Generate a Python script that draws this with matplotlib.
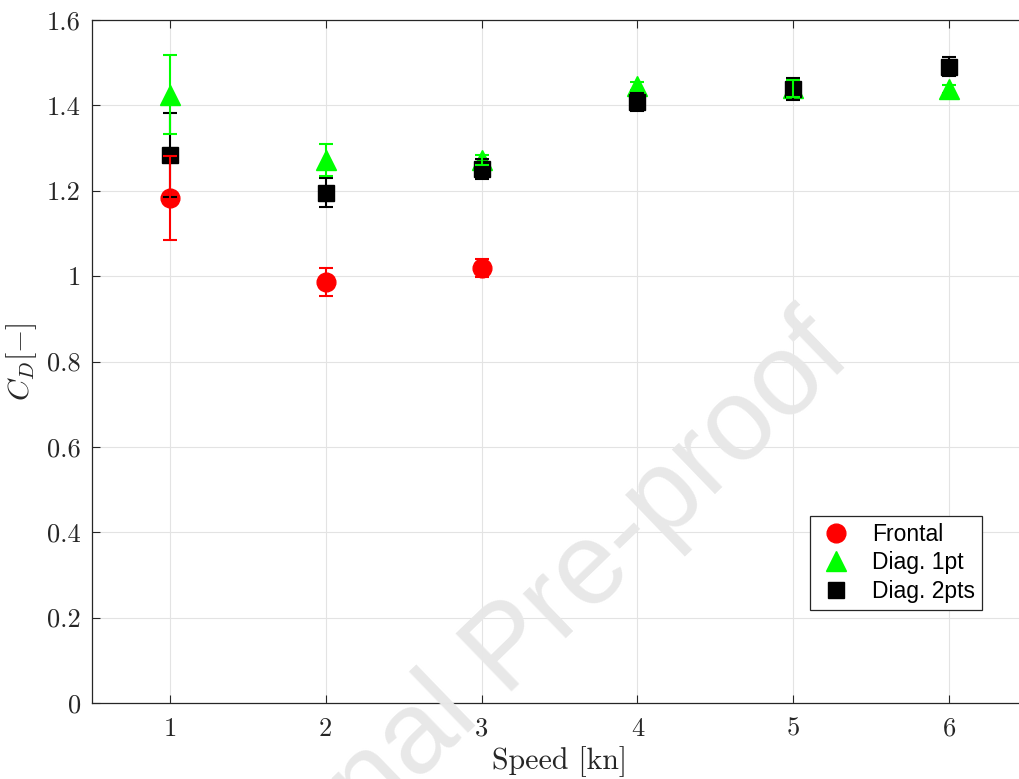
import matplotlib
matplotlib.use("Agg")
import matplotlib.pyplot as plt
import numpy as np

speed = [1, 2, 3, 4, 5, 6]

frontal_x = [1, 2, 3]
frontal_cd = [1.183, 0.986, 1.019]
frontal_err = [0.098, 0.033, 0.022]

diag1_x = [1, 2, 3, 4, 5, 6]
diag1_cd = [1.425, 1.272, 1.272, 1.445, 1.440, 1.438]
diag1_err = [0.093, 0.037, 0.012, 0.010, 0.020, 0.010]

diag2_x = [1, 2, 3, 4, 5, 6]
diag2_cd = [1.284, 1.195, 1.251, 1.408, 1.438, 1.491]
diag2_err = [0.098, 0.034, 0.023, 0.022, 0.025, 0.023]

yticks = [0, 0.2, 0.4, 0.6, 0.8, 1.0, 1.2, 1.4, 1.6]
ytick_labels = ["0", "0.2", "0.4", "0.6", "0.8", "1", "1.2", "1.4", "1.6"]

plt.rcParams['mathtext.fontset'] = 'cm'
plt.rcParams['font.family'] = 'serif'
plt.rcParams['font.serif'] = ['cmr10', 'DejaVu Serif']
plt.rcParams['axes.unicode_minus'] = False

fig = plt.figure(figsize=(10.19, 7.79), dpi=100)
ax = fig.add_axes([92/1019, 76/779, (1027-92)/1019, 683/779])

# watermark
fig.text(0.50, 0.165, "Journal Pre-proof", fontsize=84, color='#e8e8e8',
         family='Liberation Sans', rotation=44, ha='center', va='center',
         rotation_mode='anchor', zorder=0)
ax.patch.set_alpha(0)

ax.plot(frontal_x, frontal_cd, 'o', color='#ff0000', ms=13.5, zorder=2, label='Frontal')
ax.plot(diag1_x, diag1_cd, '^', color='#00ff00', ms=15, zorder=2.1, label='Diag. 1pt')
ax.plot(diag2_x, diag2_cd, 's', color='#000000', ms=11.5, zorder=2.2, label='Diag. 2pts')

ax.errorbar(diag2_x, diag2_cd, yerr=diag2_err, fmt='none', ecolor='#000000',
            elinewidth=1.5, capsize=5, capthick=1.5, zorder=3)
ax.errorbar(diag1_x, diag1_cd, yerr=diag1_err, fmt='none', ecolor='#00ff00',
            elinewidth=1.5, capsize=5, capthick=1.5, zorder=4)
ax.errorbar(frontal_x, frontal_cd, yerr=frontal_err, fmt='none', ecolor='#ff0000',
            elinewidth=1.5, capsize=5, capthick=1.5, zorder=5)

ax.set_xlim(0.5, 6.5)
ax.set_ylim(0, 1.6)
ax.set_xticks(speed)
ax.set_xticklabels([str(s) for s in speed])
ax.set_yticks(yticks)
ax.set_yticklabels(ytick_labels)
ax.tick_params(direction='in', length=6, width=0.8, labelsize=19, colors='#262626',
               pad=8, top=True, right=True)
ax.tick_params(axis='x', pad=10)
for lab in ax.get_xticklabels() + ax.get_yticklabels():
    lab.set_color('#262626')
ax.grid(True, color='#e3e3e3', linewidth=0.8)
ax.set_axisbelow(True)
for s in ax.spines.values():
    s.set_color('#262626')
    s.set_linewidth(0.9)

ax.set_xlabel("Speed [kn]", fontsize=21.5, color='#262626', labelpad=4)
ax.set_ylabel(r"$C_D[-]$", fontsize=21.5, color='#262626', labelpad=6)

leg = ax.legend(loc='lower left', bbox_to_anchor=(810/1019, (779-610)/779),
                bbox_transform=fig.transFigure, prop={'family': 'Liberation Sans', 'size': 16.5},
                frameon=True, fancybox=False, edgecolor='#262626', framealpha=1,
                borderpad=0.3, labelspacing=0.25, handletextpad=0.7, handlelength=1.7,
                borderaxespad=0)
leg.get_frame().set_linewidth(0.9)
leg.set_zorder(10)

fig.savefig("out.png", dpi=100)
